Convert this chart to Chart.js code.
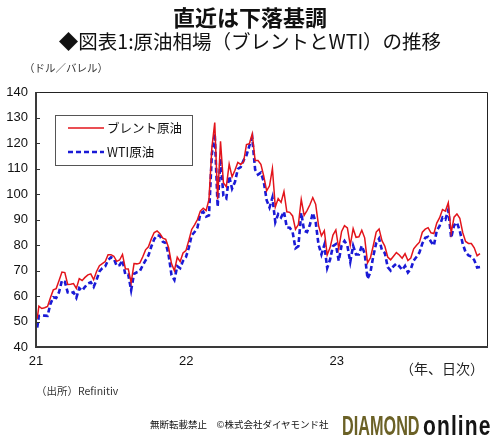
<!DOCTYPE html>
<html><head><meta charset="utf-8">
<script src="https://cdn.jsdelivr.net/npm/chart.js@4.4.1/dist/chart.umd.min.js"></script>
<style>
html,body{margin:0;padding:0;background:#fff;}
#wrap{position:relative;width:500px;height:440px;overflow:hidden;font-family:"Noto Sans CJK JP",sans-serif;}
canvas{position:absolute;left:0;top:0;}
.t{position:absolute;white-space:nowrap;color:#111;}
.logo{position:absolute;white-space:nowrap;font-family:"Liberation Sans",Arial,sans-serif;font-weight:bold;font-size:28px;line-height:34px;transform-origin:0 0;}
</style></head><body>
<div id="wrap">
<canvas id="c" width="500" height="440"></canvas>
<div class="t" style="left:0;width:500px;text-align:center;top:2px;font-size:22px;font-weight:bold;line-height:28px;">直近は下落基調</div>
<div class="t" style="left:0;width:500px;text-align:center;top:28px;font-size:19.5px;line-height:26px;">◆図表1:原油相場（ブレントとWTI）の推移</div>
<div class="t" style="left:24px;top:60px;font-size:10.5px;line-height:16px;color:#333;">（ドル／バレル）</div>
<div class="t" style="left:400px;top:358px;font-size:14px;line-height:20px;color:#222;">（年、日次）</div>
<div class="t" style="left:36px;top:383px;font-size:10.5px;line-height:16px;color:#333;">（出所）Refinitiv</div>
<div class="t" style="left:150px;top:416px;font-size:9.5px;line-height:16px;color:#111;">無断転載禁止　©株式会社ダイヤモンド社</div>
<div class="logo" style="left:342px;top:409px;color:#6b6126;transform:scaleX(0.58);">DIAMOND</div>
<div class="logo" style="left:423px;top:409px;color:#151515;letter-spacing:1.5px;transform:scaleX(0.75);">online</div>
</div>
<script>
// Weekly values (first point: first trading day of 2021, then Fridays)
const yearTicks = [21, 22, 23];
const yTicks = [40, 50, 60, 70, 80, 90, 100, 110, 120, 130, 140];
const brent2021 = [51.1, 56.0,55.1,55.4,55.9, 59.3,62.4,62.9,66.1, 69.4,69.2,64.5,64.6, 64.9,63.0,66.8,66.1,67.3, 68.3,68.7,66.4,69.6, 71.9,72.7,73.5,76.2, 76.2,75.6,73.6,74.1,76.3, 70.7,70.6,65.2,72.7, 72.6,72.9,75.3,78.1, 79.3,82.4,84.9,85.5,84.4, 82.7,82.2,78.9,72.7, 69.9,75.2,73.5,76.9,77.8];
const brent2022 = [81.8,86.1,87.9,90.0, 93.3,94.4,93.5,97.9, 118.1,128.0,98.0,120.7, 104.4,102.8,111.7,106.7,109.3, 112.4,111.6,112.6,119.4, 119.7,123.6,113.1,113.1, 111.6,107.0,101.2,103.2,110.0, 94.9,98.2,96.7,101.0, 93.0,92.8,91.4,86.2,88.0, 97.9,91.6,93.5,95.8, 98.6,96.0,87.6,83.6, 85.6,76.1,79.0,83.9,85.9];
const brent2023 = [78.6,85.3,87.6,86.7, 79.9,86.4,83.0,83.2, 85.8,82.8,73.0,75.0,79.8, 85.1,86.3,81.7,79.5, 75.3,74.2,75.6,77.0, 76.1,74.8,76.6,73.9,74.9, 78.5,79.9,81.1,85.0, 86.2,86.8,84.8,84.5, 88.6,90.7,93.9,93.3,96.6, 84.6,90.9,92.2,90.5, 84.9,81.4,80.6,80.6, 78.9,75.8,76.6];
const wti2021 = [47.6, 52.2,52.4,52.3,52.2, 56.9,59.5,59.2,61.5, 66.1,65.6,61.4,61.0, 61.5,59.3,63.1,62.1,63.6, 64.9,65.4,63.6,66.3, 69.6,70.9,71.6,74.1, 75.2,74.6,71.8,72.1,74.0, 68.3,68.4,62.3,68.7, 69.3,69.7,72.0,74.0, 75.9,79.4,82.3,83.8,83.6, 81.3,80.8,76.1,68.2, 66.3,71.7,70.9,73.8,75.2];
const wti2022 = [78.9,83.8,85.1,86.8, 92.3,93.1,91.1,91.6, 115.7,123.7,95.0,113.9, 99.3,98.3,107.0,102.1,104.7, 109.8,110.5,113.2,115.1, 118.9,122.1,109.6,107.6, 108.4,104.8,97.6,94.7,98.6, 89.0,92.1,90.8,93.1, 86.9,86.8,85.1,78.7,79.5, 92.6,85.6,85.1,87.9, 92.6,89.0,80.1,76.3, 80.0,71.0,74.3,79.6,80.3];
const wti2023 = [73.8,79.9,81.6,79.7, 73.4,79.7,76.3,76.3, 79.7,76.7,66.7,69.3,75.7, 80.7,82.5,77.9,76.8, 71.3,70.0,71.7,72.7, 71.7,70.2,71.8,69.2,70.6, 73.9,75.4,77.1,80.6, 82.8,83.2,81.3,79.8, 85.6,87.5,90.8,90.0,93.7, 82.8,87.7,88.8,85.5, 80.5,77.2,75.9,75.5, 74.1,71.2,71.4];

const brent = brent2021.concat(brent2022, brent2023);
const wti = wti2021.concat(wti2022, wti2023);
// x position in years: day 3 of 2021 for the first value, then every Friday from day 7
function xOf(i){ const d = i === 0 ? 3 : 7 + 7*(i-1); return 21 + d/365; }
const bPts = brent.map((v,i)=>({x:xOf(i), y:v}));
const wPts = wti.map((v,i)=>({x:xOf(i), y:v}));

const RED = '#e3141b', BLUE = '#1a1ad6';

const framePlugin = {
  id:'frame',
  afterDatasetsDraw(chart){
    const {ctx, chartArea:a, scales} = chart;
    ctx.save();
    ctx.strokeStyle = '#222'; ctx.lineWidth = 1;
    ctx.beginPath();
    ctx.moveTo(a.left, a.top+0.5); ctx.lineTo(a.right+0.5, a.top+0.5); ctx.lineTo(a.right+0.5, a.bottom);
    ctx.stroke();
    ctx.strokeStyle = '#3a3a3a'; ctx.lineWidth = 2;
    ctx.beginPath();
    ctx.moveTo(a.left, a.top); ctx.lineTo(a.left, a.bottom); ctx.lineTo(a.right+1, a.bottom);
    ctx.stroke();
    ctx.lineWidth = 1; ctx.strokeStyle = '#333';
    yTicks.forEach(v=>{
      const y = Math.round(scales.y.getPixelForValue(v))+0.5;
      ctx.beginPath(); ctx.moveTo(a.left, y); ctx.lineTo(a.left+4, y); ctx.stroke();
    });
    const lx = 55, ly = 115, lw = 137, lh = 50;
    ctx.fillStyle = '#fff'; ctx.fillRect(lx, ly, lw, lh);
    ctx.strokeStyle = '#555'; ctx.lineWidth = 1;
    ctx.strokeRect(lx+0.5, ly+0.5, lw, lh);
    ctx.lineWidth = 1.6; ctx.strokeStyle = RED;
    ctx.beginPath(); ctx.moveTo(68, 128); ctx.lineTo(104, 128); ctx.stroke();
    ctx.lineWidth = 2.6; ctx.strokeStyle = BLUE; ctx.setLineDash([5,3]);
    ctx.beginPath(); ctx.moveTo(68, 152); ctx.lineTo(104, 152); ctx.stroke();
    ctx.setLineDash([]);
    ctx.fillStyle = '#111'; ctx.font = '12.5px "Noto Sans CJK JP", sans-serif';
    ctx.textBaseline = 'middle';
    ctx.fillText('ブレント原油', 107, 128);
    ctx.fillText('WTI原油', 107, 152);
    ctx.restore();
  }
};

new Chart(document.getElementById('c'), {
  type:'line',
  data:{ datasets:[
    {label:'ブレント原油', data:bPts, borderColor:RED, borderWidth:1.5, pointRadius:0, tension:0, fill:false},
    {label:'WTI原油', data:wPts, borderColor:BLUE, borderWidth:2.6, borderDash:[5,3], pointRadius:0, tension:0, fill:false}
  ]},
  options:{
    responsive:false, animation:false, devicePixelRatio:1,
    layout:{padding:{left:0, top:92, right:13, bottom:68}},
    plugins:{legend:{display:false}, tooltip:{enabled:false}, title:{display:false}},
    scales:{
      x:{type:'linear', min:21, max:24,
        afterFit(s){ s.height = 25; },
        afterBuildTicks(s){ s.ticks = yearTicks.map(v=>({value:v})); },
        grid:{display:false, drawTicks:false}, border:{display:false},
        ticks:{padding:7, color:'#111', font:{family:'"Liberation Sans", Arial, sans-serif', size:13}, callback:v=>String(v)}
      },
      y:{type:'linear', min:40, max:140,
        afterFit(s){ s.width = 36; },
        afterBuildTicks(s){ s.ticks = yTicks.map(v=>({value:v})); },
        grid:{display:false, drawTicks:false}, border:{display:false},
        ticks:{padding:8, color:'#111', font:{family:'"Liberation Sans", Arial, sans-serif', size:13}}
      }
    }
  },
  plugins:[framePlugin]
});
</script>
</body></html>
